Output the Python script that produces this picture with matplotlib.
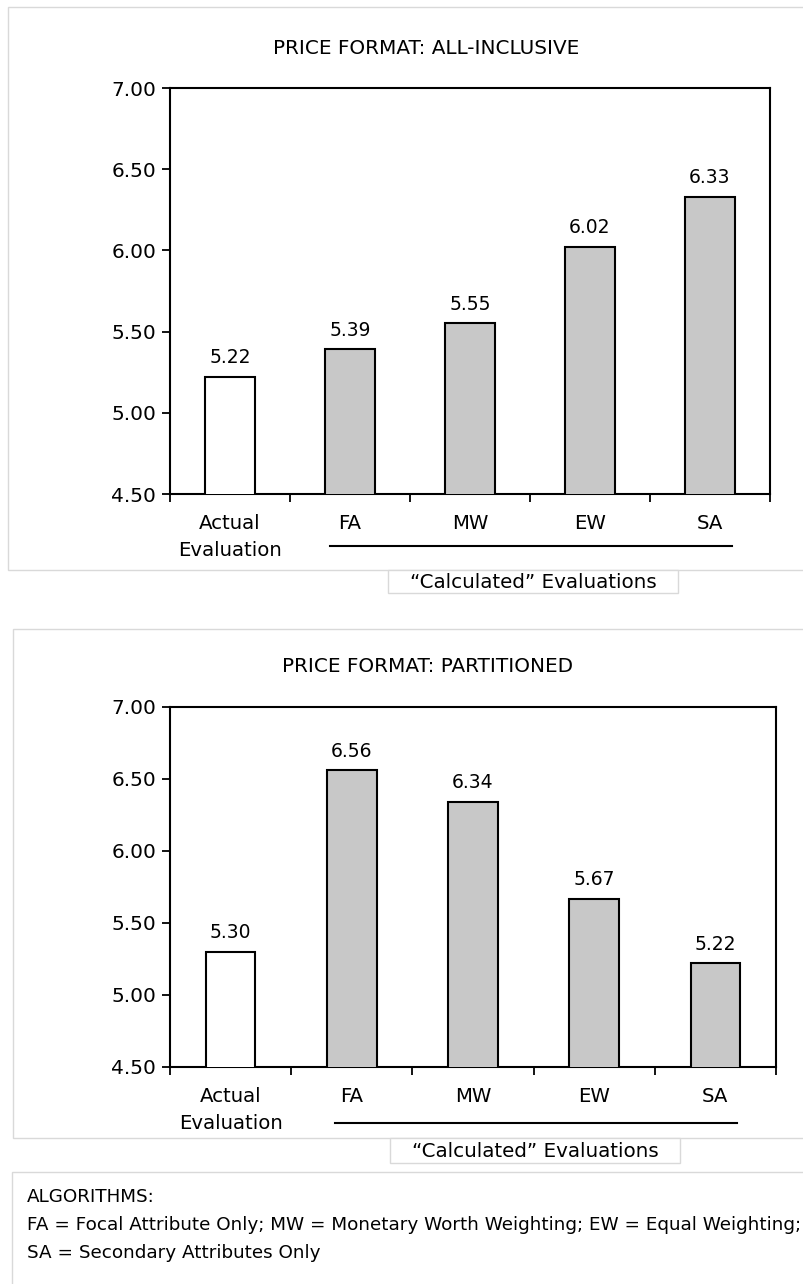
import numpy as np
import matplotlib
matplotlib.use("Agg")
import matplotlib.pyplot as plt
from matplotlib.patches import Rectangle
from matplotlib.lines import Line2D

# Datos de las dos condiciones de formato de precio
categorias = ["Actual\nEvaluation", "FA", "MW", "EW", "SA"]
valores_todo_incluido = [5.22, 5.39, 5.55, 6.02, 6.33]
valores_particionado = [5.30, 6.56, 6.34, 5.67, 5.22]
colores_barras = ["white", "#c8c8c8", "#c8c8c8", "#c8c8c8", "#c8c8c8"]
ticks_y = [4.50, 5.00, 5.50, 6.00, 6.50, 7.00]

W, H = 804, 1284
fig = plt.figure(figsize=(W / 100, H / 100), dpi=100)
fig.patch.set_facecolor("white")

FUENTE = dict(family="DejaVu Sans")
GRIS = "#d9d9d9"


def fx(px):
    return px / W


def fy(py):
    return 1 - py / H


def caja(x0, y0, x1, y1, z):
    fig.patches.append(Rectangle((fx(x0), fy(y1)), fx(x1) - fx(x0), fy(y0) - fy(y1),
                                 transform=fig.transFigure, facecolor="white",
                                 edgecolor=GRIS, lw=1, zorder=z))


def panel(titulo, valores, caja_px, ejes_px, titulo_px, linea_px, calc_px):
    caja(*caja_px, z=-5)
    x0, y0, x1, y1 = ejes_px
    ax = fig.add_axes([fx(x0), fy(y1), fx(x1) - fx(x0), fy(y0) - fy(y1)])
    ax.set_zorder(2)
    ax.patch.set_alpha(0)
    x = np.arange(len(categorias))
    barras = ax.bar(x, valores, width=0.41, bottom=0, color=colores_barras,
                    edgecolor="black", linewidth=1.5, zorder=3)
    ax.set_xlim(-0.5, len(categorias) - 0.5)
    ax.set_ylim(4.5, 7.0)
    ax.set_yticks(ticks_y)
    ax.set_yticklabels([f"{v:.2f}" for v in ticks_y], fontsize=14.5, **FUENTE)
    ax.set_xticks(np.arange(-0.5, len(categorias), 1.0))
    ax.set_xticklabels([])
    ax.tick_params(direction="out", length=6, width=1.3, colors="black", pad=4)
    for s in ax.spines.values():
        s.set_linewidth(1.5)
    for b, v in zip(barras, valores):
        ax.annotate(f"{v:.2f}", (b.get_x() + b.get_width() / 2, v),
                    xytext=(0, 7), textcoords="offset points",
                    ha="center", va="bottom", fontsize=13.5, **FUENTE)
    # etiquetas de categoría bajo el eje
    for i, c in enumerate(categorias):
        ax.annotate(c, (i, fy(ejes_px[3] + 20)), xycoords=("data", "figure fraction"),
                    ha="center", va="top", fontsize=14.2, linespacing=1.55, **FUENTE)
    fig.text(fx(titulo_px[0]), fy(titulo_px[1]), titulo, ha="center", va="center",
             fontsize=14.4, **FUENTE)
    lx0, lx1, ly = linea_px
    fig.lines.append(Line2D([fx(lx0), fx(lx1)], [fy(ly), fy(ly)],
                            transform=fig.transFigure, color="black", lw=1.5))
    cx0, cy0, cx1, cy1 = calc_px
    caja(cx0, cy0, cx1, cy1, z=1)
    fig.text(fx((cx0 + cx1) / 2), fy((cy0 + cy1) / 2 + 1), "\u201cCalculated\u201d Evaluations",
             ha="center", va="center", fontsize=14.3, **FUENTE)
    return ax


panel("PRICE FORMAT: ALL-INCLUSIVE", valores_todo_incluido,
      (8, 7, 810, 570), (170, 88, 770, 494), (426, 48), (330, 732, 546),
      (388, 570, 678, 593))

panel("PRICE FORMAT: PARTITIONED", valores_particionado,
      (13, 629, 810, 1138), (170, 707, 776, 1067), (428, 667), (335, 737, 1123),
      (390, 1138, 680, 1163))

# Recuadro de leyenda con los algoritmos
caja(12, 1172, 810, 1290, z=-5)
fig.text(fx(27), fy(1197), "ALGORITHMS:", ha="left", va="center", fontsize=13.2, **FUENTE)
fig.text(fx(27), fy(1225),
         "FA = Focal Attribute Only; MW = Monetary Worth Weighting; EW = Equal Weighting;",
         ha="left", va="center", fontsize=13.2, **FUENTE)
fig.text(fx(27), fy(1253), "SA = Secondary Attributes Only",
         ha="left", va="center", fontsize=13.2, **FUENTE)

fig.savefig("out.png", dpi=100)
